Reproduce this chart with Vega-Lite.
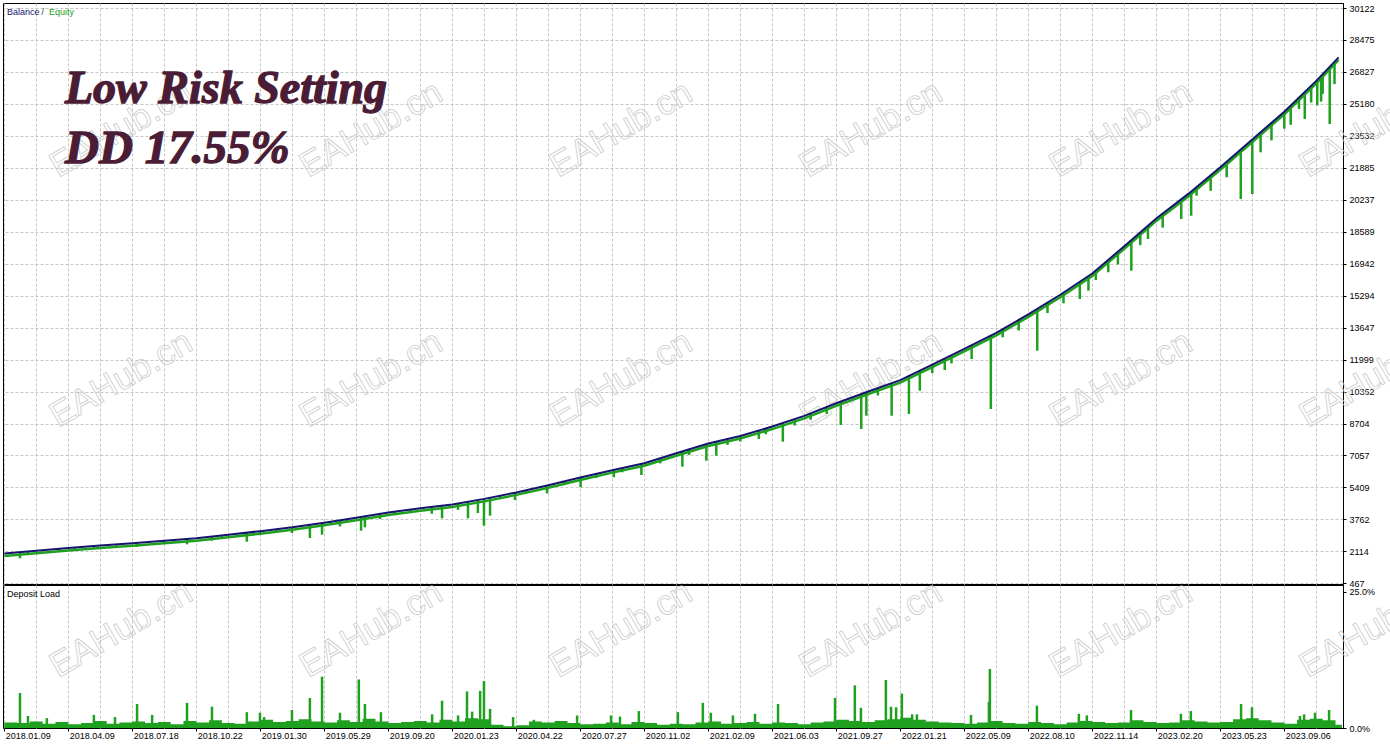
{
  "$schema": "https://vega.github.io/schema/vega-lite/v6.json",
  "description": "Balance / Equity and Deposit Load report, Low Risk Setting",
  "background": "white",
  "padding": {"left": -2, "top": 2, "right": 0, "bottom": 0},
  "spacing": 1,
  "bounds": "flush",
  "config": {
    "view": {"stroke": "#000000", "strokeWidth": 1},
    "axis": {
      "labelFont": "Liberation Sans",
      "labelFontSize": 9,
      "labelColor": "#000000",
      "tickColor": "#000000",
      "domainColor": "#000000",
      "gridColor": "#c6c6c6",
      "gridDash": [3, 2],
      "gridWidth": 1
    },
    "text": {"font": "Liberation Sans"}
  },
  "datasets": {
    "bal": [
      {"t": 0, "bal": 2000}, {"t": 10, "bal": 2149}, {"t": 20, "bal": 2289}, {"t": 30, "bal": 2421},
      {"t": 40, "bal": 2536}, {"t": 50, "bal": 2659}, {"t": 60, "bal": 2791}, {"t": 70, "bal": 2968},
      {"t": 80, "bal": 3156}, {"t": 90, "bal": 3354}, {"t": 100, "bal": 3591}, {"t": 110, "bal": 3844},
      {"t": 120, "bal": 4118}, {"t": 130, "bal": 4335}, {"t": 140, "bal": 4533}, {"t": 150, "bal": 4820},
      {"t": 160, "bal": 5153}, {"t": 170, "bal": 5526}, {"t": 180, "bal": 5921}, {"t": 190, "bal": 6300},
      {"t": 200, "bal": 6653}, {"t": 210, "bal": 7172}, {"t": 220, "bal": 7672}, {"t": 230, "bal": 8058},
      {"t": 240, "bal": 8547}, {"t": 250, "bal": 9096}, {"t": 260, "bal": 9746}, {"t": 270, "bal": 10354},
      {"t": 280, "bal": 10943}, {"t": 290, "bal": 11742}, {"t": 300, "bal": 12553}, {"t": 310, "bal": 13377},
      {"t": 320, "bal": 14329}, {"t": 330, "bal": 15341}, {"t": 340, "bal": 16439}, {"t": 350, "bal": 17843},
      {"t": 360, "bal": 19277}, {"t": 370, "bal": 20541}, {"t": 380, "bal": 21916}, {"t": 390, "bal": 23348},
      {"t": 400, "bal": 24777}, {"t": 410, "bal": 26369}, {"t": 417, "bal": 27582}
    ],
    "dips": [
      {"t": 4.9, "lo": 1756, "hi": 2073}, {"t": 7.4, "lo": 1950, "hi": 2110}, {"t": 12, "lo": 2110, "hi": 2177},
      {"t": 17.1, "lo": 2150, "hi": 2250}, {"t": 22, "lo": 2240, "hi": 2315}, {"t": 28, "lo": 2290, "hi": 2395},
      {"t": 35, "lo": 2400, "hi": 2478}, {"t": 41.5, "lo": 2338, "hi": 2554}, {"t": 49.9, "lo": 2520, "hi": 2658},
      {"t": 53, "lo": 2610, "hi": 2699}, {"t": 57.1, "lo": 2477, "hi": 2753}, {"t": 64.9, "lo": 2663, "hi": 2878},
      {"t": 68, "lo": 2840, "hi": 2933}, {"t": 75.8, "lo": 2611, "hi": 3077}, {"t": 79.9, "lo": 2950, "hi": 3154},
      {"t": 85, "lo": 3150, "hi": 3255}, {"t": 89.9, "lo": 3060, "hi": 3352}, {"t": 95.5, "lo": 2802, "hi": 3484},
      {"t": 99.3, "lo": 2972, "hi": 3574}, {"t": 102, "lo": 3520, "hi": 3642}, {"t": 104.9, "lo": 3400, "hi": 3714},
      {"t": 107, "lo": 3620, "hi": 3768}, {"t": 111.5, "lo": 3179, "hi": 3885}, {"t": 112.7, "lo": 3350, "hi": 3918},
      {"t": 117.4, "lo": 3782, "hi": 4047}, {"t": 122, "lo": 4010, "hi": 4161}, {"t": 127, "lo": 4120, "hi": 4270},
      {"t": 133.6, "lo": 4050, "hi": 4405}, {"t": 136.8, "lo": 3818, "hi": 4470}, {"t": 141.8, "lo": 4250, "hi": 4585},
      {"t": 144.9, "lo": 3818, "hi": 4674}, {"t": 148, "lo": 4091, "hi": 4763}, {"t": 149.9, "lo": 3436, "hi": 4817},
      {"t": 151.8, "lo": 3952, "hi": 4880}, {"t": 155, "lo": 4850, "hi": 4987}, {"t": 159.6, "lo": 4761, "hi": 5140},
      {"t": 163, "lo": 5080, "hi": 5265}, {"t": 169.6, "lo": 5100, "hi": 5510}, {"t": 175, "lo": 5530, "hi": 5724},
      {"t": 180.1, "lo": 5416, "hi": 5925}, {"t": 185, "lo": 5900, "hi": 6110}, {"t": 190.5, "lo": 5931, "hi": 6318},
      {"t": 193.1, "lo": 6189, "hi": 6410}, {"t": 199.1, "lo": 6050, "hi": 6620}, {"t": 205, "lo": 6650, "hi": 6913},
      {"t": 211.9, "lo": 6478, "hi": 7265}, {"t": 214, "lo": 7080, "hi": 7372}, {"t": 219.4, "lo": 6787, "hi": 7640},
      {"t": 222.5, "lo": 7045, "hi": 7770}, {"t": 226, "lo": 7600, "hi": 7904}, {"t": 230, "lo": 7780, "hi": 8058},
      {"t": 235.8, "lo": 7906, "hi": 8340}, {"t": 238, "lo": 8150, "hi": 8449}, {"t": 243.3, "lo": 7767, "hi": 8730},
      {"t": 247, "lo": 8600, "hi": 8931}, {"t": 252, "lo": 8900, "hi": 9226}, {"t": 257, "lo": 9200, "hi": 9551},
      {"t": 261.4, "lo": 8627, "hi": 9830}, {"t": 267.8, "lo": 8421, "hi": 10220}, {"t": 269.4, "lo": 9107, "hi": 10318},
      {"t": 273, "lo": 10150, "hi": 10531}, {"t": 277.3, "lo": 9107, "hi": 10784}, {"t": 282.7, "lo": 9194, "hi": 11159},
      {"t": 286.1, "lo": 10396, "hi": 11430}, {"t": 290, "lo": 11300, "hi": 11742}, {"t": 293.9, "lo": 11463, "hi": 12058},
      {"t": 296, "lo": 11800, "hi": 12229}, {"t": 302.3, "lo": 12030, "hi": 12743}, {"t": 308.3, "lo": 9452, "hi": 13237},
      {"t": 312, "lo": 13150, "hi": 13567}, {"t": 317, "lo": 13500, "hi": 14043}, {"t": 322.8, "lo": 12458, "hi": 14612},
      {"t": 326, "lo": 14400, "hi": 14936}, {"t": 331, "lo": 14900, "hi": 15451}, {"t": 336.1, "lo": 15123, "hi": 16013},
      {"t": 338.8, "lo": 15550, "hi": 16307}, {"t": 341.1, "lo": 16100, "hi": 16593}, {"t": 345, "lo": 16500, "hi": 17141},
      {"t": 348, "lo": 16900, "hi": 17562}, {"t": 352.2, "lo": 16582, "hi": 18159}, {"t": 355, "lo": 17900, "hi": 18560},
      {"t": 357.4, "lo": 18216, "hi": 18904}, {"t": 362, "lo": 18800, "hi": 19530}, {"t": 367.8, "lo": 19247, "hi": 20263},
      {"t": 370.9, "lo": 19417, "hi": 20665}, {"t": 372.6, "lo": 20448, "hi": 20898}, {"t": 377, "lo": 20700, "hi": 21504},
      {"t": 382, "lo": 21400, "hi": 22202}, {"t": 386.4, "lo": 20278, "hi": 22832}, {"t": 390, "lo": 20536, "hi": 23348},
      {"t": 392.6, "lo": 22685, "hi": 23720}, {"t": 396, "lo": 23300, "hi": 24206}, {"t": 400, "lo": 23900, "hi": 24777},
      {"t": 402, "lo": 24100, "hi": 25095}, {"t": 404.6, "lo": 24917, "hi": 25509}, {"t": 406.4, "lo": 24402, "hi": 25796},
      {"t": 408.4, "lo": 25250, "hi": 26114}, {"t": 410.3, "lo": 25100, "hi": 26420}, {"t": 411.5, "lo": 25300, "hi": 26630},
      {"t": 412, "lo": 25700, "hi": 26716}, {"t": 414.2, "lo": 24144, "hi": 27086}, {"t": 415.7, "lo": 26200, "hi": 27346}
    ],
    "load": [
      {"t": 0, "p": 1.0}, {"t": 4, "p": 0.9}, {"t": 8, "p": 1.2}, {"t": 12, "p": 0.8}, {"t": 16, "p": 1.1},
      {"t": 20, "p": 0.7}, {"t": 24, "p": 0.9}, {"t": 28, "p": 1.3}, {"t": 32, "p": 0.8}, {"t": 36, "p": 1.0},
      {"t": 40, "p": 1.2}, {"t": 44, "p": 0.9}, {"t": 48, "p": 1.1}, {"t": 52, "p": 0.7}, {"t": 56, "p": 1.3},
      {"t": 60, "p": 1.0}, {"t": 64, "p": 1.4}, {"t": 68, "p": 0.9}, {"t": 72, "p": 0.8}, {"t": 76, "p": 1.2},
      {"t": 80, "p": 1.5}, {"t": 84, "p": 1.1}, {"t": 88, "p": 1.3}, {"t": 92, "p": 1.6}, {"t": 96, "p": 1.2},
      {"t": 100, "p": 1.0}, {"t": 104, "p": 1.4}, {"t": 108, "p": 1.1}, {"t": 112, "p": 1.7}, {"t": 116, "p": 1.2},
      {"t": 120, "p": 0.9}, {"t": 124, "p": 1.1}, {"t": 128, "p": 1.3}, {"t": 132, "p": 1.0}, {"t": 136, "p": 1.5},
      {"t": 140, "p": 1.2}, {"t": 144, "p": 1.8}, {"t": 148, "p": 1.6}, {"t": 152, "p": 0.6}, {"t": 156, "p": 0.3},
      {"t": 160, "p": 0.5}, {"t": 164, "p": 1.2}, {"t": 168, "p": 1.0}, {"t": 172, "p": 1.3}, {"t": 176, "p": 0.9},
      {"t": 180, "p": 0.7}, {"t": 184, "p": 0.8}, {"t": 188, "p": 1.0}, {"t": 192, "p": 0.7}, {"t": 196, "p": 1.1},
      {"t": 200, "p": 0.9}, {"t": 204, "p": 0.6}, {"t": 208, "p": 0.8}, {"t": 212, "p": 0.7}, {"t": 216, "p": 1.0},
      {"t": 220, "p": 1.2}, {"t": 224, "p": 0.8}, {"t": 228, "p": 0.9}, {"t": 232, "p": 1.1}, {"t": 236, "p": 0.8},
      {"t": 240, "p": 1.0}, {"t": 244, "p": 0.9}, {"t": 248, "p": 0.7}, {"t": 252, "p": 1.0}, {"t": 256, "p": 1.2},
      {"t": 260, "p": 1.5}, {"t": 264, "p": 1.3}, {"t": 268, "p": 1.1}, {"t": 272, "p": 1.4}, {"t": 276, "p": 1.6},
      {"t": 280, "p": 1.9}, {"t": 284, "p": 1.5}, {"t": 288, "p": 1.2}, {"t": 292, "p": 1.0}, {"t": 296, "p": 0.9},
      {"t": 300, "p": 0.8}, {"t": 304, "p": 1.0}, {"t": 308, "p": 1.3}, {"t": 312, "p": 0.9}, {"t": 316, "p": 0.8},
      {"t": 320, "p": 1.1}, {"t": 324, "p": 0.9}, {"t": 328, "p": 0.7}, {"t": 332, "p": 1.0}, {"t": 336, "p": 1.3},
      {"t": 340, "p": 1.1}, {"t": 344, "p": 0.9}, {"t": 348, "p": 1.0}, {"t": 352, "p": 1.4}, {"t": 356, "p": 1.1},
      {"t": 360, "p": 0.9}, {"t": 364, "p": 1.0}, {"t": 368, "p": 1.4}, {"t": 372, "p": 1.2}, {"t": 376, "p": 1.0},
      {"t": 380, "p": 1.1}, {"t": 384, "p": 1.6}, {"t": 388, "p": 1.8}, {"t": 392, "p": 1.4}, {"t": 396, "p": 1.0},
      {"t": 400, "p": 0.8}, {"t": 404, "p": 1.5}, {"t": 408, "p": 1.7}, {"t": 412, "p": 1.4}, {"t": 416, "p": 0.6},
      {"t": 418, "p": 0}
    ],
    "spikes": [
      {"t": 4.9, "p": 6.4}, {"t": 7.4, "p": 2.2}, {"t": 13.3, "p": 1.8}, {"t": 28.0, "p": 2.4}, {"t": 34.6, "p": 2.0},
      {"t": 41.5, "p": 4.4}, {"t": 46.2, "p": 2.4}, {"t": 57.1, "p": 4.6}, {"t": 64.9, "p": 3.9}, {"t": 75.8, "p": 2.9},
      {"t": 79.9, "p": 2.8}, {"t": 81.2, "p": 2.0}, {"t": 89.9, "p": 3.3}, {"t": 95.5, "p": 5.5}, {"t": 99.3, "p": 9.4},
      {"t": 104.9, "p": 2.8}, {"t": 110.8, "p": 8.9}, {"t": 112.7, "p": 4.4}, {"t": 117.7, "p": 2.9}, {"t": 133.7, "p": 2.5},
      {"t": 136.8, "p": 5.0}, {"t": 141.8, "p": 2.3}, {"t": 144.6, "p": 6.7}, {"t": 146.2, "p": 3.0}, {"t": 148.7, "p": 6.8},
      {"t": 149.9, "p": 8.6}, {"t": 151.8, "p": 3.5}, {"t": 159.0, "p": 2.0}, {"t": 165.5, "p": 1.5}, {"t": 179.0, "p": 2.3},
      {"t": 189.6, "p": 2.3}, {"t": 192.4, "p": 2.1}, {"t": 198.3, "p": 3.1}, {"t": 210.5, "p": 2.9}, {"t": 218.3, "p": 4.6},
      {"t": 220.8, "p": 2.8}, {"t": 227.7, "p": 2.3}, {"t": 234.6, "p": 2.6}, {"t": 241.8, "p": 4.4}, {"t": 259.6, "p": 5.5},
      {"t": 265.8, "p": 7.8}, {"t": 267.7, "p": 3.7}, {"t": 275.5, "p": 8.8}, {"t": 277.1, "p": 3.9}, {"t": 278.7, "p": 3.8},
      {"t": 280.5, "p": 6.3}, {"t": 283.7, "p": 2.5}, {"t": 285.2, "p": 2.5}, {"t": 302.1, "p": 2.4}, {"t": 307.7, "p": 4.8},
      {"t": 308.0, "p": 10.8}, {"t": 322.7, "p": 4.1}, {"t": 335.8, "p": 2.6}, {"t": 338.3, "p": 2.3}, {"t": 352.1, "p": 3.3},
      {"t": 367.7, "p": 2.6}, {"t": 370.8, "p": 3.1}, {"t": 386.5, "p": 4.4}, {"t": 389.9, "p": 3.8}, {"t": 404.9, "p": 2.2},
      {"t": 406.2, "p": 2.5}, {"t": 409.6, "p": 2.8}, {"t": 414.0, "p": 3.3}
    ],
    "wm_top": [
      {"t": 36.5, "v": 23886}, {"t": 114.6, "v": 23886}, {"t": 192.7, "v": 23886}, {"t": 270.8, "v": 23886}, {"t": 348.9, "v": 23886}, {"t": 427, "v": 23886},
      {"t": 36.5, "v": 11000}, {"t": 114.6, "v": 11000}, {"t": 192.7, "v": 11000}, {"t": 270.8, "v": 11000}, {"t": 348.9, "v": 11000}, {"t": 427, "v": 11000}
    ],
    "wm_bot": [
      {"t": 36.5, "p": 18.1}, {"t": 114.6, "p": 18.1}, {"t": 192.7, "p": 18.1}, {"t": 270.8, "p": 18.1}, {"t": 348.9, "p": 18.1}, {"t": 427, "p": 18.1}
    ]
  },
  "vconcat": [
    {
      "width": 1340,
      "height": 581,
      "layer": [
        {
          "data": {"name": "wm_top"},
          "mark": {"type": "text", "text": "EAHub.cn", "angle": -30, "fontSize": 35, "fillOpacity": 0, "stroke": "#cccccc", "strokeWidth": 0.8, "align": "center", "baseline": "middle"},
          "encoding": {
            "x": {"field": "t", "type": "quantitative", "scale": {"domain": [-0.4, 418.35], "nice": false, "zero": false}, "axis": {"title": null}},
            "y": {"field": "v", "type": "quantitative", "scale": {"domain": [431, 30382], "nice": false, "zero": false}, "axis": {"title": null}}
          }
        },
        {
          "data": {"name": "bal"},
          "mark": {"type": "line", "color": "#1fa01f", "strokeWidth": 2.5, "yOffset": 2.5},
          "encoding": {
            "x": {"field": "t", "type": "quantitative", "scale": {"domain": [-0.4, 418.35], "nice": false, "zero": false}, "axis": {"title": null}},
            "y": {"field": "bal", "type": "quantitative", "scale": {"domain": [431, 30382], "nice": false, "zero": false}, "axis": {"title": null}}
          }
        },
        {
          "data": {"name": "dips"},
          "mark": {"type": "rule", "color": "#1fa01f", "strokeWidth": 2.5},
          "encoding": {
            "x": {"field": "t", "type": "quantitative", "scale": {"domain": [-0.4, 418.35], "nice": false, "zero": false}, "axis": {"title": null}},
            "y": {"field": "lo", "type": "quantitative", "scale": {"domain": [431, 30382], "nice": false, "zero": false}, "axis": {"title": null}},
            "y2": {"field": "hi"}
          }
        },
        {
          "data": {"name": "bal"},
          "mark": {"type": "line", "color": "#15156e", "strokeWidth": 2},
          "encoding": {
            "x": {
              "field": "t", "type": "quantitative",
              "scale": {"domain": [-0.4, 418.35], "nice": false, "zero": false},
              "axis": {"values": [0, 10, 20, 30, 40, 50, 60, 70, 80, 90, 100, 110, 120, 130, 140, 150, 160, 170, 180, 190, 200, 210, 220, 230, 240, 250, 260, 270, 280, 290, 300, 310, 320, 330, 340, 350, 360, 370, 380, 390, 400, 410],
                       "tickCount": 100, "labels": false, "ticks": false, "domain": false, "grid": true, "title": null}
            },
            "y": {
              "field": "bal", "type": "quantitative",
              "scale": {"domain": [431, 30382], "nice": false, "zero": false},
              "axis": {"orient": "right", "values": [467, 2114, 3762, 5409, 7057, 8704, 10352, 11999, 13647, 15294, 16942, 18589, 20237, 21885, 23532, 25180, 26827, 28475, 30122],
                       "tickCount": 100, "format": "d", "grid": true, "title": null, "tickSize": 3, "labelPadding": 3,
                       "labelOverlap": false, "labelBound": false, "labelFlush": false}
            }
          }
        },
        {
          "data": {"values": [{}]},
          "mark": {"type": "text", "text": "Balance", "align": "left", "baseline": "middle", "dx": 4, "dy": 9, "fontSize": 9, "color": "#14146e"},
          "encoding": {
            "x": {"datum": -0.4, "type": "quantitative", "scale": {"domain": [-0.4, 418.35], "nice": false, "zero": false}},
            "y": {"datum": 30382, "type": "quantitative", "scale": {"domain": [431, 30382], "nice": false, "zero": false}}
          }
        },
        {
          "data": {"values": [{}]},
          "mark": {"type": "text", "text": "/", "align": "left", "baseline": "middle", "dx": 38.5, "dy": 9, "fontSize": 9, "color": "#404040"},
          "encoding": {
            "x": {"datum": -0.4, "type": "quantitative", "scale": {"domain": [-0.4, 418.35], "nice": false, "zero": false}},
            "y": {"datum": 30382, "type": "quantitative", "scale": {"domain": [431, 30382], "nice": false, "zero": false}}
          }
        },
        {
          "data": {"values": [{}]},
          "mark": {"type": "text", "text": "Equity", "align": "left", "baseline": "middle", "dx": 46, "dy": 9, "fontSize": 9, "color": "#22a022"},
          "encoding": {
            "x": {"datum": -0.4, "type": "quantitative", "scale": {"domain": [-0.4, 418.35], "nice": false, "zero": false}},
            "y": {"datum": 30382, "type": "quantitative", "scale": {"domain": [431, 30382], "nice": false, "zero": false}}
          }
        },
        {
          "data": {"values": [{}]},
          "mark": {"type": "text", "text": "Low Risk Setting", "align": "left", "baseline": "alphabetic", "dx": 62, "dy": 100, "font": "Liberation Serif", "fontStyle": "italic", "fontWeight": "bold", "fontSize": 46, "color": "#4a1c35", "stroke": "#4a1c35", "strokeWidth": 1.3},
          "encoding": {
            "x": {"datum": -0.4, "type": "quantitative", "scale": {"domain": [-0.4, 418.35], "nice": false, "zero": false}},
            "y": {"datum": 30382, "type": "quantitative", "scale": {"domain": [431, 30382], "nice": false, "zero": false}}
          }
        },
        {
          "data": {"values": [{}]},
          "mark": {"type": "text", "text": "DD 17.55%", "align": "left", "baseline": "alphabetic", "dx": 62, "dy": 160, "font": "Liberation Serif", "fontStyle": "italic", "fontWeight": "bold", "fontSize": 47, "color": "#4a1c35", "stroke": "#4a1c35", "strokeWidth": 1.3},
          "encoding": {
            "x": {"datum": -0.4, "type": "quantitative", "scale": {"domain": [-0.4, 418.35], "nice": false, "zero": false}},
            "y": {"datum": 30382, "type": "quantitative", "scale": {"domain": [431, 30382], "nice": false, "zero": false}}
          }
        }
      ]
    },
    {
      "width": 1340,
      "height": 143,
      "layer": [
        {
          "data": {"name": "wm_bot"},
          "mark": {"type": "text", "text": "EAHub.cn", "angle": -30, "fontSize": 35, "fillOpacity": 0, "stroke": "#cccccc", "strokeWidth": 0.8, "align": "center", "baseline": "middle"},
          "encoding": {
            "x": {"field": "t", "type": "quantitative", "scale": {"domain": [-0.4, 418.35], "nice": false, "zero": false}, "axis": {"title": null}},
            "y": {"field": "p", "type": "quantitative", "scale": {"domain": [0, 26.2], "nice": false, "zero": false}, "axis": {"title": null}}
          }
        },
        {
          "data": {"name": "load"},
          "mark": {"type": "area", "interpolate": "step-after", "color": "#1fa01f"},
          "encoding": {
            "x": {
              "field": "t", "type": "quantitative",
              "scale": {"domain": [-0.4, 418.35], "nice": false, "zero": false},
              "axis": {
                "values": [0, 10, 20, 30, 40, 50, 60, 70, 80, 90, 100, 110, 120, 130, 140, 150, 160, 170, 180, 190, 200, 210, 220, 230, 240, 250, 260, 270, 280, 290, 300, 310, 320, 330, 340, 350, 360, 370, 380, 390, 400, 410],
                "tickCount": 100,
                "labelExpr": "datum.value % 20 === 0 ? ['2018.01.09','2018.04.09','2018.07.18','2018.10.22','2019.01.30','2019.05.29','2019.09.20','2020.01.23','2020.04.22','2020.07.27','2020.11.02','2021.02.09','2021.06.03','2021.09.27','2022.01.21','2022.05.09','2022.08.10','2022.11.14','2023.02.20','2023.05.23','2023.09.06'][datum.value / 20] : ''",
                "labelAlign": "left", "labelOffset": 1, "labelPadding": 0, "tickSize": 3,
                "tickOpacity": {"condition": {"test": "datum.value % 20 === 0", "value": 1}, "value": 0},
                "domain": false, "grid": true, "title": null,
                "labelOverlap": false, "labelBound": false, "labelFlush": false
              }
            },
            "y": {
              "field": "p", "type": "quantitative",
              "scale": {"domain": [0, 26.2], "nice": false, "zero": false},
              "axis": {"orient": "right", "values": [0, 25], "tickCount": 100, "labelExpr": "format(datum.value, '.1f') + '%'",
                       "grid": false, "title": null, "tickSize": 3, "labelPadding": 3,
                       "labelOverlap": false, "labelBound": false, "labelFlush": false}
            },
            "y2": {"datum": 0}
          }
        },
        {
          "data": {"name": "spikes"},
          "mark": {"type": "rule", "color": "#1fa01f", "strokeWidth": 2.5},
          "encoding": {
            "x": {"field": "t", "type": "quantitative", "scale": {"domain": [-0.4, 418.35], "nice": false, "zero": false}, "axis": {"title": null}},
            "y": {"field": "p", "type": "quantitative", "scale": {"domain": [0, 26.2], "nice": false, "zero": false}, "axis": {"title": null}},
            "y2": {"datum": 0}
          }
        },
        {
          "data": {"values": [{}]},
          "mark": {"type": "text", "text": "Deposit Load", "align": "left", "baseline": "middle", "dx": 4, "dy": 8.5, "fontSize": 9, "color": "#000000"},
          "encoding": {
            "x": {"datum": -0.4, "type": "quantitative", "scale": {"domain": [-0.4, 418.35], "nice": false, "zero": false}},
            "y": {"datum": 26.2, "type": "quantitative", "scale": {"domain": [0, 26.2], "nice": false, "zero": false}}
          }
        }
      ]
    }
  ]
}
